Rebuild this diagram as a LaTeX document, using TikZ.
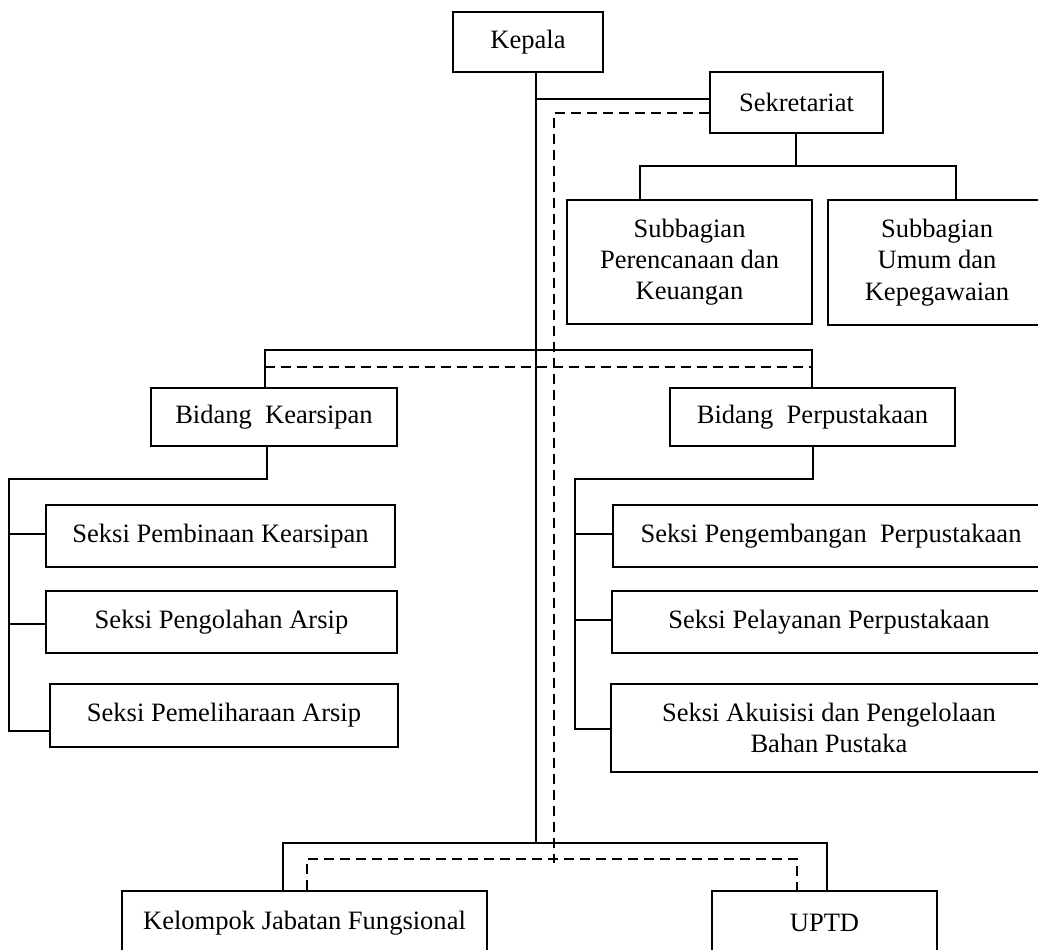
\documentclass[tikz,border=0pt]{standalone}
\usepackage{fontspec}
\setmainfont{Liberation Serif}
\begin{document}
\begin{tikzpicture}[x=0.75pt,y=-0.75pt,
  box/.style={draw,line width=1.35pt,inner sep=0pt,align=center,font=\fontsize{19.9}{23.5}\selectfont},
  conn/.style={line width=1.35pt},
  dconn/.style={line width=1.35pt,dash pattern=on 7.5pt off 4.5pt}]
\useasboundingbox (0,0) rectangle (1038,949);
% boxes
\node[box,minimum width=112.5pt,minimum height=45pt] (kepala) at (528,42) {Kepala};
\node[box,minimum width=129.75pt,minimum height=45.75pt] (sekr) at (796.5,102.5) {Sekretariat};
\node[box,minimum width=183.75pt,minimum height=93pt] (sub1) at (689.5,262) {Subbagian\\Perencanaan dan\\Keuangan};
\node[box,minimum width=163.5pt,minimum height=93.75pt] (sub2) at (937,262.5) {Subbagian\\Umum dan\\Kepegawaian};
\node[box,minimum width=184.5pt,minimum height=43.5pt] (bk) at (274,417) {Bidang\ \ Kearsipan};
\node[box,minimum width=213.75pt,minimum height=43.5pt] (bp) at (812.5,417) {Bidang\ \ Perpustakaan};
\node[box,minimum width=261.75pt,minimum height=46.5pt] (k1) at (220.5,536) {Seksi Pembinaan Kearsipan};
\node[box,minimum width=263.25pt,minimum height=46.5pt] (k2) at (221.5,622) {Seksi Pengolahan Arsip};
\node[box,minimum width=261pt,minimum height=47.25pt] (k3) at (224,715.5) {Seksi Pemeliharaan Arsip};
\node[box,minimum width=327pt,minimum height=46.5pt] (p1) at (831,536) {Seksi Pengembangan\ \ Perpustakaan};
\node[box,minimum width=325.5pt,minimum height=46.5pt] (p2) at (829,622) {Seksi Pelayanan Perpustakaan};
\node[box,minimum width=327pt,minimum height=66pt] (p3) at (829,728) {Seksi Akuisisi dan Pengelolaan\\Bahan Pustaka};
\node[box,minimum width=273.75pt,minimum height=48pt] (kjf) at (304.5,923) {Kelompok Jabatan Fungsional};
\node[box,minimum width=168.75pt,minimum height=48pt] (uptd) at (824.5,923) {UPTD};
% helper coordinates
\coordinate (sp) at (536,99);
\coordinate (ds) at (554,113);
\coordinate (bs) at (536,843);
\coordinate (bd) at (554,863);
% Kepala spine
\draw[conn] (kepala.south -| sp) -- (bs);
\draw[conn] (sp) -- (sekr.west |- sp);
\draw[dconn] (sekr.west |- ds) -- (ds) -- (bd);
% Sekretariat
\coordinate (sh) at (796,166);
\draw[conn] (sekr.south -| sh) -- (sh);
\draw[conn] (sub1.north -| 640,0) -- (640,166) -- (956,166) -- (sub2.north -| 956,0);
% Bidang
\draw[conn] (bk.north -| 265,0) -- (265,350) -- (812,350) -- (bp.north -| 812,0);
\draw[dconn] (265,367) -- (812,367);
% Bidang Kearsipan branches
\draw[conn] (bk.south -| 267,0) -- (267,479) -- (9,479) -- (9,731) -- (k3.west |- 0,731);
\draw[conn] (9,534) -- (k1.west |- 0,534);
\draw[conn] (9,624) -- (k2.west |- 0,624);
% Bidang Perpustakaan branches
\draw[conn] (bp.south -| 813,0) -- (813,479) -- (575,479) -- (575,729) -- (p3.west |- 0,729);
\draw[conn] (575,534) -- (p1.west |- 0,534);
\draw[conn] (575,620) -- (p2.west |- 0,620);
% bottom
\draw[conn] (kjf.north -| 283,0) -- (283,843) -- (827,843) -- (uptd.north -| 827,0);
\draw[dconn] (kjf.north -| 307,0) -- (307,859) -- (797,859) -- (uptd.north -| 797,0);
\end{tikzpicture}
\end{document}
